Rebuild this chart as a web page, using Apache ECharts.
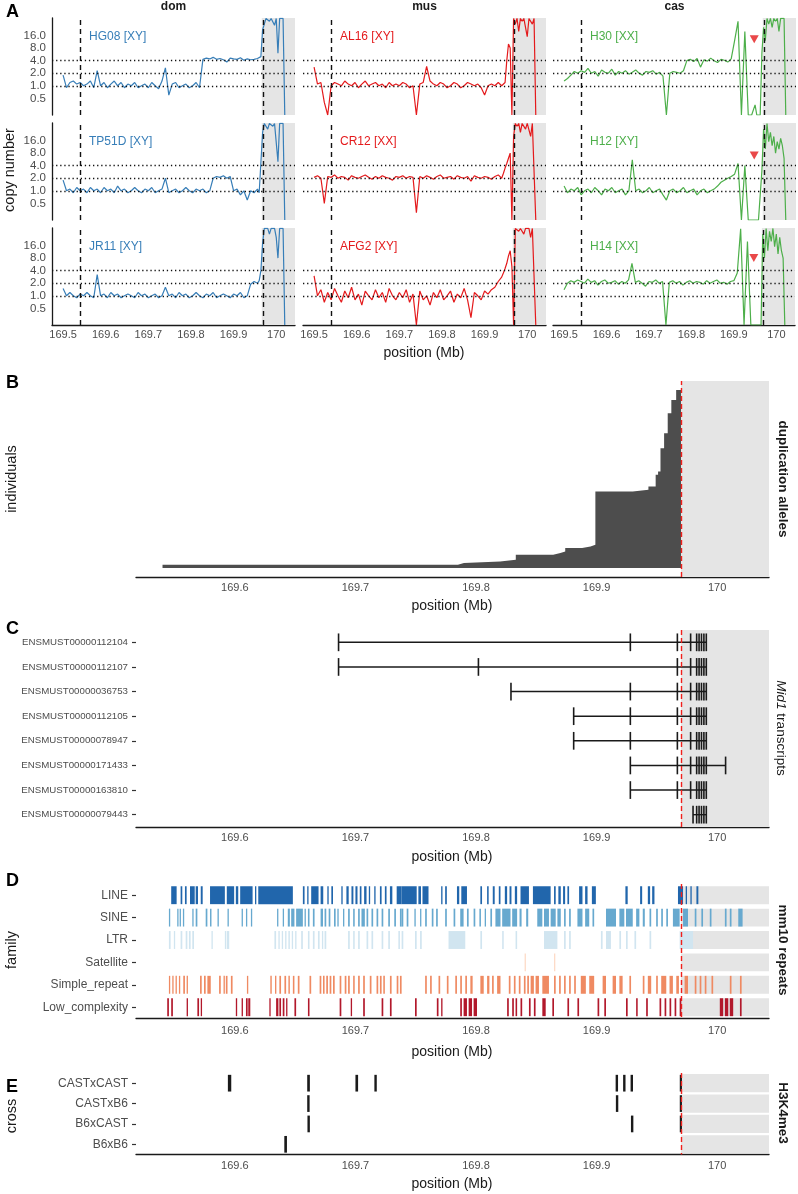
<!DOCTYPE html>
<html><head><meta charset="utf-8">
<script src="https://cdn.jsdelivr.net/npm/echarts@6/dist/echarts.min.js"></script>
<style>html,body{margin:0;padding:0;background:#fff}#c{width:798px;height:1194px}</style>
</head><body><div id="c"></div>
<script>
// ---------------- Panel A data ----------------
const positions = [
169.500,169.508,169.516,169.524,169.532,169.540,169.548,169.556,169.564,169.572,
169.580,169.588,169.596,169.604,169.612,169.620,169.628,169.636,169.644,169.652,
169.660,169.668,169.676,169.684,169.692,169.700,169.708,169.716,169.724,169.732,
169.740,169.748,169.756,169.764,169.772,169.780,169.788,169.796,169.804,169.812,
169.820,169.828,169.836,169.844,169.852,169.860,169.868,169.876,169.884,169.892,
169.900,169.908,169.916,169.924,169.932,169.940,169.944,169.948,169.952,169.956,
169.960,169.964,169.968,169.972,169.976,169.980,169.984,169.988,169.992,169.996,
170.000,170.004,170.008,170.012,170.016,170.020];
const hg08 = [1.8,0.9,1.2,1.3,1.1,1.2,1.0,1.1,1.3,0.9, 2.3,1.0,1.2,0.9,1.1,1.3,1.0,1.2,0.9,1.1, 1.0,1.2,0.9,1.0,1.1,0.9,1.2,1.0,0.85,1.3, 2.7,0.6,1.1,1.2,0.9,1.0,1.1,0.9,1.0,1.2, 0.9,4.3,4.6,4.4,4.8,4.3,4.5,4.2,3.7,4.6, 4.4,4.3,4.7,4.1,4.4,4.2,4.6,4.3,4.0,4.5, 4.2,5.0,22,30,41,41,35,41,41,28, 41,6,41,41,41,0.2];
const tp51d = [1.8,1.0,1.1,0.9,1.2,1.0,1.1,0.9,1.2,1.0, 1.1,0.9,1.2,1.0,1.1,0.9,1.3,1.0,1.1,0.9, 1.0,1.2,1.0,0.9,1.1,1.0,1.2,0.9,1.0,1.1, 2.0,0.9,1.0,1.1,0.9,1.0,1.2,1.0,0.9,1.1, 1.0,1.1,0.9,1.0,2.0,2.2,2.1,2.3,2.0,2.2, 1.0,1.1,0.8,1.0,0.6,1.0,1.1,0.9,1.0,1.1, 0.9,1.0,25,41,41,30,41,41,35,41, 41,5,41,41,41,0.2];
const jr11 = [1.5,1.0,1.2,1.0,0.9,1.1,1.0,1.2,1.0,0.9, 3.2,1.0,1.1,0.9,1.2,1.0,1.1,0.9,1.0,1.1, 1.0,0.9,1.2,1.0,1.1,0.9,1.0,1.1,0.9,1.0, 1.6,1.0,1.1,0.9,1.2,1.0,1.1,0.9,1.0,1.2, 1.0,0.9,1.1,1.0,1.2,0.9,1.0,1.1,1.0,0.9, 1.1,1.0,1.2,0.9,1.0,1.9,2.0,2.2,2.1,2.0, 2.3,4,18,41,41,41,30,41,41,41, 25,8,41,41,41,0.2];
const al16 = [2.8,1.1,1.2,0.4,0.2,1.0,1.2,1.1,1.0,1.3, 1.1,1.0,1.2,0.9,1.1,1.3,1.0,1.1,1.2,1.0, 1.1,0.9,1.2,1.0,1.1,1.0,1.2,1.1,0.9,1.0, 0.2,1.1,1.2,2.9,1.3,1.1,1.0,1.2,1.1,0.9, 1.0,1.2,1.1,0.9,1.0,1.2,1.1,1.0,1.1,0.9, 0.6,1.0,1.1,1.0,1.2,1.0,1.1,1.2,4,10, 8,0.2,41,30,41,20,41,35,41,41, 15,41,41,30,41,0.2];
const cr12 = [2.1,2.3,2.0,0.5,2.2,2.1,2.4,2.0,2.2,2.1, 1.8,2.3,2.1,2.0,2.2,2.4,2.1,1.9,2.2,2.0, 2.3,2.1,2.0,1.8,2.2,2.1,2.3,2.0,2.2,2.1, 0.3,2.2,2.0,2.3,2.1,1.9,2.2,2.4,2.0,2.1, 2.2,1.9,2.3,2.1,2.0,2.2,1.7,2.3,2.1,2.0, 2.2,2.1,1.9,2.2,2.4,2.0,2.6,3.5,4.5,6, 8,0.2,20,41,35,41,25,41,41,30, 41,41,20,41,41,0.2];
const afg2 = [3.0,1.0,1.4,0.7,1.2,0.8,1.5,1.0,0.7,1.3, 0.9,1.6,0.8,1.1,0.6,1.3,1.0,0.8,1.4,0.9, 1.2,0.7,1.5,1.0,0.8,1.2,0.9,1.4,0.7,1.1, 0.2,1.3,0.8,1.0,0.6,1.2,0.9,1.4,0.8,1.0, 1.3,0.7,1.1,0.9,1.5,0.8,0.3,1.2,1.0,0.8, 1.3,1.1,1.4,1.6,2.2,2.8,3.5,4.5,6,9, 12,5,0.2,41,41,35,41,41,30,41, 41,41,25,41,41,0.2];
const h30 = [1.3,1.5,1.8,2.2,2.0,2.3,2.1,2.6,2.0,2.2, 1.7,2.4,2.1,2.0,2.5,1.8,2.2,2.0,2.3,1.9, 2.1,2.4,2.0,1.8,2.2,2.1,2.3,1.9,2.1,1.7, 0.2,2.0,2.2,2.1,2.0,2.3,4.0,4.3,3.8,4.5, 2.8,4.2,3.9,4.6,4.0,3.6,4.3,4.1,3.7,4.4, 12,35,0.2,20,0.2,0.2,0.2,0.35,0.2,0.2, 0.2,6,25,12,41,30,41,25,41,35, 41,20,41,38,41,0.2];
const h12 = [1.3,0.9,1.1,1.0,1.2,0.8,1.0,1.1,0.9,1.2, 1.0,0.8,1.1,1.0,1.2,0.9,1.0,1.1,0.8,1.0, 5.5,1.0,1.1,0.9,1.0,1.2,0.9,1.0,1.1,0.8, 0.6,1.0,1.1,0.9,1.0,1.2,0.9,1.0,1.1,0.8, 1.0,1.1,0.9,1.0,1.1,1.3,1.6,1.8,2.0,2.2, 2.5,4.5,0.2,4.0,0.2,0.2,0.2,0.2,0.2,0.2, 0.2,3,30,10,41,15,25,12,20,8, 15,10,18,12,6,0.2];
const h14 = [1.4,2.0,2.3,2.1,2.4,2.2,2.0,2.5,2.1,2.3, 1.8,2.2,2.4,2.0,2.1,2.3,1.9,2.2,2.0,2.4, 6.0,2.1,2.3,2.0,1.7,2.2,2.1,2.4,2.0,2.2, 0.2,2.1,2.3,2.0,2.2,1.8,2.1,2.3,2.0,2.2, 2.1,1.9,2.3,2.0,2.2,2.4,2.0,2.1,1.9,2.2, 2.3,3.5,40,0.2,20,0.2,0.2,0.2,0.2,0.2, 0.2,0.2,30,8,41,12,35,20,41,15, 30,10,25,12,8,0.2];
const subspecies = ['dom','mus','cas'];
const subColors = ['#377EB8','#E41A1C','#4DAF4A'];
const sampleNames = [['HG08 [XY]','TP51D [XY]','JR11 [XY]'],['AL16 [XY]','CR12 [XX]','AFG2 [XY]'],['H30 [XX]','H12 [XY]','H14 [XX]']];
const sampleValues = [[hg08,tp51d,jr11],[al16,cr12,afg2],[h30,h12,h14]];
const refCopy = [1,2,4];
const dashedPos = [169.54, 169.966];
const triangleX = [169.946, 169.946, 169.947];
const triangleY = [13, 7, 8];

// ---------------- Panel B data ----------------
const dupStart = [169.540,169.785,169.790,169.820,169.833,169.864,169.870,169.874,169.888,169.895,169.899,169.930,169.943,169.949,169.951,169.953,169.956,169.959,169.962,169.966];
const dupCount = [2,1,1,1,3,1,1,2,1,1,32,1,2,7,2,14,9,12,8,6];
const dupEnd = 169.97;

// ---------------- Panel C data ----------------
const transcripts = ['ENSMUST00000112104','ENSMUST00000112107','ENSMUST00000036753','ENSMUST00000112105','ENSMUST00000078947','ENSMUST00000171433','ENSMUST00000163810','ENSMUST00000079443'];
const txStart = [169.686,169.686,169.829,169.881,169.881,169.928,169.928,169.980];
const txEnd   = [169.991,169.991,169.991,169.991,169.991,170.007,169.991,169.991];
const exonSets = [
 [169.686,169.928,169.967,169.978,169.983,169.985,169.987,169.989,169.991],
 [169.686,169.802,169.967,169.978,169.983,169.985,169.987,169.989,169.991],
 [169.829,169.928,169.967,169.978,169.983,169.985,169.987,169.989,169.991],
 [169.881,169.928,169.967,169.978,169.983,169.985,169.987,169.989,169.991],
 [169.881,169.928,169.967,169.978,169.983,169.985,169.987,169.989,169.991],
 [169.928,169.967,169.978,169.983,169.985,169.987,169.989,169.991,170.007],
 [169.928,169.967,169.978,169.983,169.985,169.987,169.989,169.991],
 [169.980,169.983,169.985,169.987,169.989,169.991]];

// ---------------- Panel D data ----------------
const families = ['LINE','SINE','LTR','Satellite','Simple_repeat','Low_complexity'];
const familyColors = ['#2166ac','#67a9cf','#d1e5f0','#fddbc7','#ef8a62','#b2182b'];
const lineRep = [[169.5472,169.5517],[169.5550,169.5564],[169.5586,169.5600],[169.5628,169.5667],[169.5675,169.5694],[169.5717,169.5733],[169.5794,169.5917],[169.5933,169.5994],[169.6008,169.6028],[169.6044,169.6147],[169.6167,169.6175],[169.6194,169.6481],[169.6564,169.6578],[169.6600,169.6611],[169.6633,169.6694],[169.6711,169.6733],[169.6767,169.6778],[169.6800,169.6814],[169.6883,169.6894],[169.6925,169.6944],[169.6967,169.6983],[169.7000,169.7017],[169.7036,169.7050],[169.7072,169.7092],[169.7111,169.7122],[169.7156,169.7167],[169.7203,169.7217],[169.7244,169.7258],[169.7286,169.7306],[169.7342,169.7383],[169.7383,169.7508],[169.7522,169.7544],[169.7556,169.7606],[169.7711,169.7722],[169.7744,169.7758],[169.7842,169.7861],[169.7878,169.7925],[169.8036,169.8050],[169.8092,169.8105],[169.8139,169.8155],[169.8189,169.8203],[169.8239,169.8258],[169.8278,169.8294],[169.8322,169.8341],[169.8369,169.8439],[169.8472,169.8619],[169.8647,169.8661],[169.8683,169.8703],[169.8722,169.8739],[169.8758,169.8772],[169.8855,169.8883],[169.8905,169.8925],[169.8961,169.8994],[169.9239,169.9258],[169.9361,169.9378],[169.9425,169.9444],[169.9461,169.9480],[169.9675,169.9717],[169.9739,169.9750],[169.9778,169.9789],[169.9828,169.9844]];
const sineRep = [[169.5453,169.5461],[169.5522,169.5531],[169.5542,169.5550],[169.5569,169.5578],[169.5647,169.5656],[169.5675,169.5689],[169.5758,169.5772],[169.5794,169.5806],[169.5856,169.5867],[169.5939,169.5947],[169.6056,169.6064],[169.6092,169.6100],[169.6133,169.6142],[169.6350,169.6358],[169.6397,169.6406],[169.6439,169.6456],[169.6467,169.6494],[169.6508,169.6564],[169.6578,169.6586],[169.6606,169.6619],[169.6647,169.6661],[169.6711,169.6731],[169.6744,169.6758],[169.6778,169.6792],[169.6822,169.6836],[169.6850,169.6861],[169.6897,169.6906],[169.6939,169.6953],[169.6981,169.6994],[169.7022,169.7036],[169.7050,169.7078],[169.7092,169.7106],[169.7133,169.7147],[169.7175,169.7189],[169.7217,169.7231],[169.7272,169.7286],[169.7322,169.7336],[169.7369,169.7383],[169.7383,169.7397],[169.7425,169.7439],[169.7489,169.7500],[169.7536,169.7544],[169.7578,169.7592],[169.7633,169.7647],[169.7669,169.7683],[169.7744,169.7758],[169.7814,169.7828],[169.7869,169.7897],[169.7925,169.7939],[169.7980,169.7994],[169.8028,169.8041],[169.8072,169.8083],[169.8119,169.8133],[169.8161,169.8203],[169.8217,169.8286],[169.8300,169.8341],[169.8361,169.8378],[169.8416,169.8433],[169.8508,169.8550],[169.8564,169.8605],[169.8619,169.8661],[169.8675,169.8703],[169.8730,169.8744],[169.8772,169.8786],[169.8841,169.8883],[169.8905,169.8939],[169.8966,169.8980],[169.9078,169.9161],[169.9189,169.9230],[169.9244,169.9300],[169.9328,169.9355],[169.9383,169.9400],[169.9439,169.9453],[169.9494,169.9508],[169.9536,169.9550],[169.9578,169.9592],[169.9633,169.9689],[169.9717,169.9758],[169.9814,169.9828],[169.9869,169.9883],[169.9939,169.9953],[170.0064,170.0078],[170.0105,170.0119],[170.0175,170.0211]];
const ltrRep = [[169.5453,169.5467],[169.5494,169.5503],[169.5550,169.5564],[169.5592,169.5606],[169.5619,169.5633],[169.5647,169.5661],[169.5806,169.5814],[169.5917,169.5925],[169.5933,169.5953],[169.6328,169.6342],[169.6361,169.6372],[169.6389,169.6400],[169.6417,169.6428],[169.6444,169.6456],[169.6472,169.6483],[169.6500,169.6511],[169.6550,169.6564],[169.6606,169.6619],[169.6647,169.6661],[169.6689,169.6703],[169.6722,169.6733],[169.6744,169.6758],[169.6939,169.6953],[169.6981,169.6994],[169.7022,169.7036],[169.7092,169.7106],[169.7133,169.7147],[169.7217,169.7231],[169.7272,169.7286],[169.7356,169.7369],[169.7383,169.7397],[169.7494,169.7508],[169.7536,169.7550],[169.7772,169.7911],[169.8036,169.8050],[169.8217,169.8230],[169.8328,169.8341],[169.8564,169.8675],[169.8730,169.8744],[169.8772,169.8786],[169.9036,169.9050],[169.9078,169.9119],[169.9189,169.9203],[169.9244,169.9258],[169.9314,169.9328],[169.9439,169.9453],[169.9689,169.9800]];
const satelliteRep = [[169.8403,169.8411],[169.8647,169.8655]];
const simpleRep = [[169.5453,169.5461],[169.5481,169.5489],[169.5508,169.5517],[169.5536,169.5544],[169.5572,169.5586],[169.5600,169.5608],[169.5711,169.5725],[169.5744,169.5758],[169.5772,169.5800],[169.5869,169.5883],[169.5906,169.5917],[169.5925,169.5939],[169.5967,169.5981],[169.6100,169.6111],[169.6294,169.6306],[169.6333,169.6344],[169.6369,169.6383],[169.6411,169.6425],[169.6444,169.6456],[169.6481,169.6494],[169.6522,169.6536],[169.6619,169.6633],[169.6703,169.6717],[169.6731,169.6744],[169.6758,169.6772],[169.6786,169.6800],[169.6814,169.6828],[169.6869,169.6883],[169.6911,169.6925],[169.6939,169.6953],[169.6981,169.6994],[169.7022,169.7036],[169.7064,169.7078],[169.7119,169.7133],[169.7175,169.7189],[169.7203,169.7217],[169.7231,169.7244],[169.7286,169.7300],[169.7342,169.7356],[169.7369,169.7383],[169.7578,169.7592],[169.7619,169.7633],[169.7689,169.7703],[169.7758,169.7772],[169.7828,169.7842],[169.7869,169.7883],[169.7911,169.7925],[169.7953,169.7972],[169.8036,169.8064],[169.8092,169.8111],[169.8133,169.8147],[169.8175,169.8203],[169.8272,169.8286],[169.8314,169.8328],[169.8355,169.8369],[169.8397,169.8411],[169.8425,169.8439],[169.8453,169.8480],[169.8494,169.8522],[169.8550,169.8605],[169.8647,169.8661],[169.8689,169.8703],[169.8730,169.8744],[169.8772,169.8786],[169.8814,169.8828],[169.8869,169.8911],[169.8939,169.8980],[169.9050,169.9078],[169.9133,169.9161],[169.9189,169.9216],[169.9272,169.9286],[169.9383,169.9397],[169.9425,169.9453],[169.9494,169.9508],[169.9536,169.9578],[169.9605,169.9633],[169.9661,169.9683],[169.9730,169.9758],[169.9814,169.9828],[169.9855,169.9869],[169.9897,169.9911],[169.9953,169.9967],[170.0105,170.0119],[170.0189,170.0203]];
const lowRep = [[169.5439,169.5453],[169.5472,169.5486],[169.5600,169.5611],[169.5689,169.5703],[169.5717,169.5725],[169.6008,169.6019],[169.6056,169.6067],[169.6092,169.6106],[169.6111,169.6128],[169.6286,169.6294],[169.6342,169.6361],[169.6369,169.6383],[169.6397,169.6411],[169.6425,169.6433],[169.6494,169.6508],[169.6606,169.6619],[169.6869,169.6883],[169.6961,169.6972],[169.7064,169.7078],[169.7217,169.7231],[169.7286,169.7300],[169.7494,169.7508],[169.7675,169.7689],[169.7711,169.7722],[169.7869,169.7883],[169.7897,169.7925],[169.7939,169.7967],[169.7980,169.8008],[169.8258,169.8272],[169.8300,169.8314],[169.8328,169.8341],[169.8369,169.8383],[169.8439,169.8453],[169.8480,169.8494],[169.8550,169.8578],[169.8633,169.8647],[169.8758,169.8772],[169.8841,169.8855],[169.9008,169.9022],[169.9064,169.9078],[169.9244,169.9258],[169.9328,169.9341],[169.9411,169.9425],[169.9522,169.9536],[169.9564,169.9578],[169.9605,169.9619],[169.9647,169.9661],[169.9689,169.9703],[170.0022,170.0050],[170.0064,170.0092],[170.0105,170.0133],[170.0189,170.0203]];
const repeatSets = [lineRep, sineRep, ltrRep, satelliteRep, simpleRep, lowRep];

// ---------------- Panel E data ----------------
const crosses = ['CASTxCAST','CASTxB6','B6xCAST','B6xB6'];
const peakSets = [
 [[169.5942,169.5970],[169.6600,169.6622],[169.7000,169.7022],[169.7157,169.7177],[169.9158,169.9178],[169.9220,169.9240],[169.9282,169.9302],[169.9690,169.9708]],
 [[169.6600,169.6620],[169.9160,169.9180],[169.9690,169.9708]],
 [[169.6602,169.6622],[169.9285,169.9305],[169.9690,169.9708]],
 [[169.6410,169.6432]]];

// ---------------- Layout / style ----------------
const FONT = '"Liberation Sans", Arial, Helvetica, sans-serif';
const TXT = '#4d4d4d', AX = '#1a1a1a', GREY = '#e5e5e5', RED = '#f0201c';
const xMinA = 169.474, xMaxA = 170.044, xMinL = 169.518, xMaxL = 170.043;
const greyStartA = 169.966, greyStartL = 169.97;
const fmtMb = v => { const r = Math.round(v * 10) / 10; return Math.abs(r - v) < 1e-6 ? String(r) : ''; };

const grids = [], xAxes = [], yAxes = [], series = [], graphics = [];
function text(x, y, s, o) {
  o = o || {};
  const st = { text: s, fill: o.color || AX, fontSize: o.size || 12, fontFamily: FONT,
    fontWeight: o.weight || 'normal', fontStyle: o.style || 'normal',
    align: o.align || 'center', verticalAlign: 'middle', textAlign: o.align || 'center', textVerticalAlign: 'middle' };
  if (o.rich) st.rich = o.rich;
  graphics.push({ type: 'text', x: x, y: y, rotation: o.rot || 0, silent: true, z: 100, style: st });
}
function xAxisCfg(gi, min, max, showLine, showLabel, margin) {
  return { gridIndex: gi, type: 'value', min: min, max: max, splitNumber: 5,
    axisLine: { show: showLine, onZero: false, lineStyle: { color: AX, width: 1.3 } },
    axisTick: { show: false }, splitLine: { show: false },
    axisLabel: { show: showLabel, color: TXT, fontSize: 11, fontFamily: FONT, margin: margin, formatter: fmtMb } };
}
function intervalRender(color, frac, minW) {
  return function (params, api) {
    const row = api.value(2);
    const p0 = api.coord([api.value(0), row]);
    const p1 = api.coord([api.value(1), row]);
    const h = api.size([0, 1])[1] * frac;
    return { type: 'rect', shape: { x: p0[0], y: p0[1] - h / 2, width: Math.max(p1[0] - p0[0], minW), height: h },
      style: { fill: color } };
  };
}
function thinRender(color, h) {
  return function (params, api) {
    const row = api.value(2);
    const p0 = api.coord([api.value(0), row]);
    const p1 = api.coord([api.value(1), row]);
    return { type: 'rect', shape: { x: p0[0], y: p0[1] - h / 2, width: p1[0] - p0[0], height: h }, style: { fill: color } };
  };
}
function tickRender(color, frac, w) {
  return function (params, api) {
    const p = api.coord([api.value(0), api.value(1)]);
    const h = api.size([0, 1])[1] * frac;
    return { type: 'rect', shape: { x: p[0] - w / 2, y: p[1] - h / 2, width: w, height: h }, style: { fill: color } };
  };
}
function redLineSeries(gi) {
  return { type: 'line', xAxisIndex: gi, yAxisIndex: gi, data: [], z: 10, silent: true,
    markLine: { silent: true, symbol: 'none', label: { show: false },
      lineStyle: { color: RED, width: 1.4, type: [5, 3] }, data: [{ xAxis: greyStartL }] } };
}
function greyAreaSeries(gi, start, end) {
  return { type: 'line', xAxisIndex: gi, yAxisIndex: gi, data: [], z: 1, silent: true,
    markArea: { silent: true, itemStyle: { color: GREY }, data: [[{ xAxis: start }, { xAxis: end }]] } };
}

// ---------------- Panel A ----------------
const colLeft = [52, 303, 553], rowTop = [18, 123, 228], WA = 243, HA = 97;
for (let c = 0; c < 3; c++) {
  for (let r = 0; r < 3; r++) {
    const gi = grids.length;
    grids.push({ left: colLeft[c], top: rowTop[r], width: WA, height: HA });
    xAxes.push(xAxisCfg(gi, xMinA, xMaxA, r === 2, r === 2, 4));
    yAxes.push({ gridIndex: gi, type: 'log', logBase: 2, min: 0.2, max: 42,
      axisLine: { show: c === 0, lineStyle: { color: AX, width: 1.3 } }, axisTick: { show: false }, splitLine: { show: false },
      axisLabel: { show: c === 0, color: TXT, fontSize: 11.5, fontFamily: FONT, margin: 6,
        formatter: v => (v > 0.4 && v < 20) ? v.toFixed(1) : '' } });
    series.push(greyAreaSeries(gi, greyStartA, xMaxA));
    const vals = sampleValues[c][r];
    series.push({ type: 'line', xAxisIndex: gi, yAxisIndex: gi, z: 2, silent: true, symbol: 'none', showSymbol: false,
      lineStyle: { color: subColors[c], width: 1.2 }, data: positions.map((x, i) => [x, vals[i]]) });
    const ml = refCopy.map(v => ({ yAxis: v, lineStyle: { color: '#111', width: 1.3, type: [1.3, 2.8] } }))
      .concat(dashedPos.map(v => ({ xAxis: v, lineStyle: { color: '#111', width: 1.4, type: [5, 4] } })));
    series.push({ type: 'line', xAxisIndex: gi, yAxisIndex: gi, data: [], z: 3, silent: true,
      markLine: { silent: true, symbol: 'none', label: { show: false }, data: ml } });
    if (c === 2) {
      series.push({ type: 'scatter', xAxisIndex: gi, yAxisIndex: gi, z: 4, silent: true, symbol: 'triangle', symbolRotate: 180,
        symbolSize: [9, 8], itemStyle: { color: '#E41A1C' }, data: [[triangleX[r], triangleY[r]]] });
    }
    text(colLeft[c] + 37, rowTop[r] + 19, sampleNames[c][r], { color: subColors[c], size: 12, align: 'left' });
  }
  text(colLeft[c] + WA / 2, 7, subspecies[c], { weight: 'bold', size: 12 });
}
text(6, 12, 'A', { weight: 'bold', size: 18, align: 'left', color: '#000' });
text(10, 170, 'copy number', { size: 14.5, rot: Math.PI / 2 });
text(424, 353, 'position (Mb)', { size: 14 });

// ---------------- Panel B ----------------
{
  const gi = grids.length;
  grids.push({ left: 136, top: 381, width: 633, height: 196 });
  xAxes.push(xAxisCfg(gi, xMinL, xMaxL, true, true, 5));
  let total = 0; dupCount.forEach(n => total += n);
  yAxes.push({ gridIndex: gi, type: 'value', min: -0.05 * total, max: 1.05 * total, show: false });
  series.push(greyAreaSeries(gi, greyStartL, xMaxL));
  let cum = 0;
  const pts = dupStart.map((s, i) => { cum += dupCount[i]; return [s, cum]; });
  pts.push([dupEnd, cum]);
  series.push({ type: 'line', xAxisIndex: gi, yAxisIndex: gi, z: 2, silent: true, step: 'end', symbol: 'none', showSymbol: false,
    lineStyle: { width: 0, color: '#4d4d4d' }, areaStyle: { color: '#4d4d4d', opacity: 1, origin: 0 }, data: pts });
  series.push(redLineSeries(gi));
  text(6, 383, 'B', { weight: 'bold', size: 18, align: 'left', color: '#000' });
  text(12, 479, 'individuals', { size: 14.5, rot: Math.PI / 2 });
  text(452, 606, 'position (Mb)', { size: 14 });
  text(783, 479, 'duplication alleles', { size: 13.5, weight: 'bold', rot: -Math.PI / 2 });
}

// ---------------- Panel C ----------------
{
  const gi = grids.length;
  grids.push({ left: 136, top: 630, width: 633, height: 197 });
  xAxes.push(xAxisCfg(gi, xMinL, xMaxL, true, true, 5));
  yAxes.push({ gridIndex: gi, type: 'category', data: transcripts, inverse: true,
    axisLine: { show: false }, axisTick: { show: true, alignWithLabel: true, length: 4, lineStyle: { color: '#333', width: 1.2 } },
    axisLabel: { color: TXT, fontSize: 9.7, fontFamily: FONT, margin: 8 } });
  series.push(greyAreaSeries(gi, greyStartL, xMaxL));
  series.push({ type: 'custom', xAxisIndex: gi, yAxisIndex: gi, z: 2, silent: true, renderItem: thinRender(AX, 1.4),
    encode: { x: [0, 1], y: 2 }, data: transcripts.map((t, i) => [txStart[i], txEnd[i], i]) });
  const ex = [];
  exonSets.forEach((set, i) => set.forEach(x => ex.push([x, i])));
  series.push({ type: 'custom', xAxisIndex: gi, yAxisIndex: gi, z: 3, silent: true, renderItem: tickRender(AX, 0.72, 1.6),
    encode: { x: 0, y: 1 }, data: ex });
  series.push(redLineSeries(gi));
  text(6, 629, 'C', { weight: 'bold', size: 18, align: 'left', color: '#000' });
  text(452, 857, 'position (Mb)', { size: 14 });
  text(781, 728, '{i|Mid1} transcripts', { size: 13.5, rot: -Math.PI / 2,
    rich: { i: { fontStyle: 'italic', fontSize: 13.5, fontFamily: FONT, fill: AX } } });
}

// ---------------- Panel D ----------------
{
  const gi = grids.length;
  grids.push({ left: 136, top: 884, width: 633, height: 134.4 });
  xAxes.push(xAxisCfg(gi, xMinL, xMaxL, true, true, 7));
  yAxes.push({ gridIndex: gi, type: 'category', data: families, inverse: true,
    axisLine: { show: false }, axisTick: { show: true, alignWithLabel: true, length: 4, lineStyle: { color: '#333', width: 1.2 } },
    axisLabel: { color: TXT, fontSize: 12, fontFamily: FONT, margin: 8 } });
  series.push({ type: 'custom', xAxisIndex: gi, yAxisIndex: gi, z: 1, silent: true, renderItem: intervalRender(GREY, 0.8, 0),
    encode: { x: [0, 1], y: 2 }, data: families.map((f, i) => [greyStartL, xMaxL, i]) });
  repeatSets.forEach((set, i) => {
    series.push({ type: 'custom', xAxisIndex: gi, yAxisIndex: gi, z: 2, silent: true,
      renderItem: intervalRender(familyColors[i], 0.8, 1.3), encode: { x: [0, 1], y: 2 },
      data: set.map(p => [p[0], p[1], i]) });
  });
  series.push(redLineSeries(gi));
  text(6, 881, 'D', { weight: 'bold', size: 18, align: 'left', color: '#000' });
  text(12, 950, 'family', { size: 14.5, rot: Math.PI / 2 });
  text(452, 1052, 'position (Mb)', { size: 14 });
  text(783, 950, 'mm10 repeats', { size: 13.5, weight: 'bold', rot: -Math.PI / 2 });
}

// ---------------- Panel E ----------------
{
  const gi = grids.length;
  grids.push({ left: 136, top: 1073, width: 633, height: 81.5 });
  xAxes.push(xAxisCfg(gi, xMinL, xMaxL, true, true, 6));
  yAxes.push({ gridIndex: gi, type: 'category', data: crosses, inverse: true,
    axisLine: { show: false }, axisTick: { show: true, alignWithLabel: true, length: 4, lineStyle: { color: '#333', width: 1.2 } },
    axisLabel: { color: TXT, fontSize: 12, fontFamily: FONT, margin: 8 } });
  series.push({ type: 'custom', xAxisIndex: gi, yAxisIndex: gi, z: 1, silent: true, renderItem: intervalRender(GREY, 0.9, 0),
    encode: { x: [0, 1], y: 2 }, data: crosses.map((f, i) => [greyStartL, xMaxL, i]) });
  const pk = [];
  peakSets.forEach((set, i) => set.forEach(p => pk.push([p[0], p[1], i])));
  series.push({ type: 'custom', xAxisIndex: gi, yAxisIndex: gi, z: 2, silent: true,
    renderItem: intervalRender(AX, 0.82, 2), encode: { x: [0, 1], y: 2 }, data: pk });
  series.push(redLineSeries(gi));
  text(6, 1087, 'E', { weight: 'bold', size: 18, align: 'left', color: '#000' });
  text(12, 1116, 'cross', { size: 14.5, rot: Math.PI / 2 });
  text(452, 1184, 'position (Mb)', { size: 14 });
  text(783, 1113, 'H3K4me3', { size: 13.5, weight: 'bold', rot: -Math.PI / 2 });
}

const chart = echarts.init(document.getElementById('c'), null, { renderer: 'canvas', width: 798, height: 1194 });
chart.setOption({ animation: false, backgroundColor: '#fff', grid: grids, xAxis: xAxes, yAxis: yAxes, series: series, graphic: { elements: graphics } });
</script></body></html>
